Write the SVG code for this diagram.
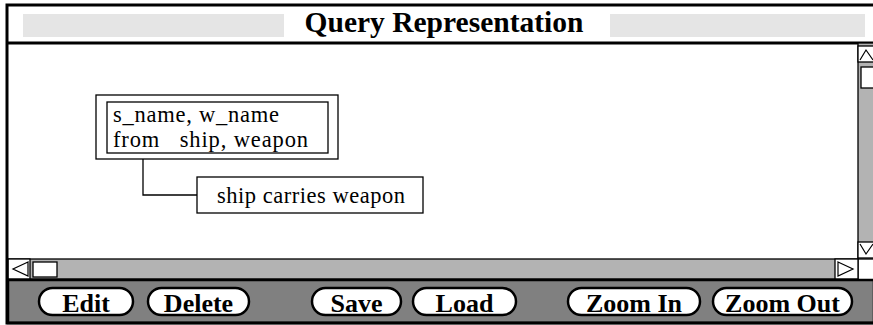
<svg xmlns="http://www.w3.org/2000/svg" width="873" height="325" viewBox="0 0 873 325">
<style>
.btn rect{fill:#fff;stroke:#000;stroke-width:2.5}
.btn text{font-family:"Liberation Serif",serif;font-weight:bold;font-size:26px;text-anchor:middle}
.node rect{fill:#fff;stroke:#000;stroke-width:1.3}
.node text{font-family:"Liberation Serif",serif;font-size:22.5px}
.sb{fill:#fff;stroke:#000;stroke-width:1.3}
</style>
<rect x="0" y="0" width="873" height="325" fill="#fff"/>
<g id="titlebar">
<rect x="23" y="14" width="261" height="23" fill="#e5e5e5"/>
<rect x="610" y="14" width="255" height="23" fill="#e5e5e5"/>
<text x="444" y="32" font-family="Liberation Serif,serif" font-weight="bold" font-size="29.5" text-anchor="middle">Query Representation</text>
<line x1="7" y1="43" x2="873" y2="43" stroke="#000" stroke-width="3"/>
</g>
<g id="vscroll">
<rect x="858" y="43" width="16" height="216" fill="#b3b3b3" stroke="#000" stroke-width="1.3"/>
<rect class="sb" x="858" y="46" width="16" height="16"/>
<path d="M860 60 L866 50 L873 60" fill="none" stroke="#000" stroke-width="1.2"/>
<rect class="sb" x="861" y="67" width="13" height="21"/>
<rect class="sb" x="858" y="242" width="16" height="16"/>
<path d="M860 244 L866 254 L873 244" fill="none" stroke="#000" stroke-width="1.2"/>
</g>
<g id="hscroll">
<rect x="8" y="259" width="850" height="20" fill="#b3b3b3" stroke="#000" stroke-width="1.3"/>
<rect class="sb" x="8" y="259" width="22" height="20"/>
<path d="M28 262 L13 269 L28 276 Z" fill="none" stroke="#000" stroke-width="1.2"/>
<rect class="sb" x="33" y="262" width="24" height="15"/>
<rect class="sb" x="835" y="259" width="23" height="20"/>
<path d="M838 262 L853 269 L838 276 Z" fill="none" stroke="#000" stroke-width="1.2"/>
</g>
<g id="buttonbar">
<rect x="8" y="280" width="866" height="43" fill="#808080" stroke="#000" stroke-width="2.5"/>
</g>
<g id="btn-edit" class="btn"><rect x="39" y="288" width="94" height="27" rx="13.5"/><text x="86" y="312">Edit</text></g>
<g id="btn-delete" class="btn"><rect x="148" y="288" width="101" height="27" rx="13.5"/><text x="198.5" y="312">Delete</text></g>
<g id="btn-save" class="btn"><rect x="312" y="288" width="89" height="27" rx="13.5"/><text x="356.5" y="312">Save</text></g>
<g id="btn-load" class="btn"><rect x="413" y="288" width="103" height="27" rx="13.5"/><text x="464.5" y="312">Load</text></g>
<g id="btn-zoomin" class="btn"><rect x="568" y="288" width="132" height="27" rx="13.5"/><text x="634" y="312">Zoom In</text></g>
<g id="btn-zoomout" class="btn"><rect x="713" y="288" width="139" height="27" rx="13.5"/><text x="782.5" y="312">Zoom Out</text></g>
<g id="connectors">
<path d="M143 159 V195 H197" fill="none" stroke="#000" stroke-width="1.3"/>
</g>
<g id="node-select" class="node">
<rect x="96" y="95" width="242" height="64"/>
<rect x="107" y="102" width="221" height="51"/>
<text x="113" y="122" textLength="166">s_name, w_name</text>
<text x="113" y="147" textLength="195" xml:space="preserve">from   ship, weapon</text>
</g>
<g id="node-relation" class="node">
<rect x="197" y="177" width="226" height="36"/>
<text x="217" y="203" textLength="188">ship carries weapon</text>
</g>
<rect x="7" y="5" width="870" height="318" fill="none" stroke="#000" stroke-width="3"/>
</svg>
